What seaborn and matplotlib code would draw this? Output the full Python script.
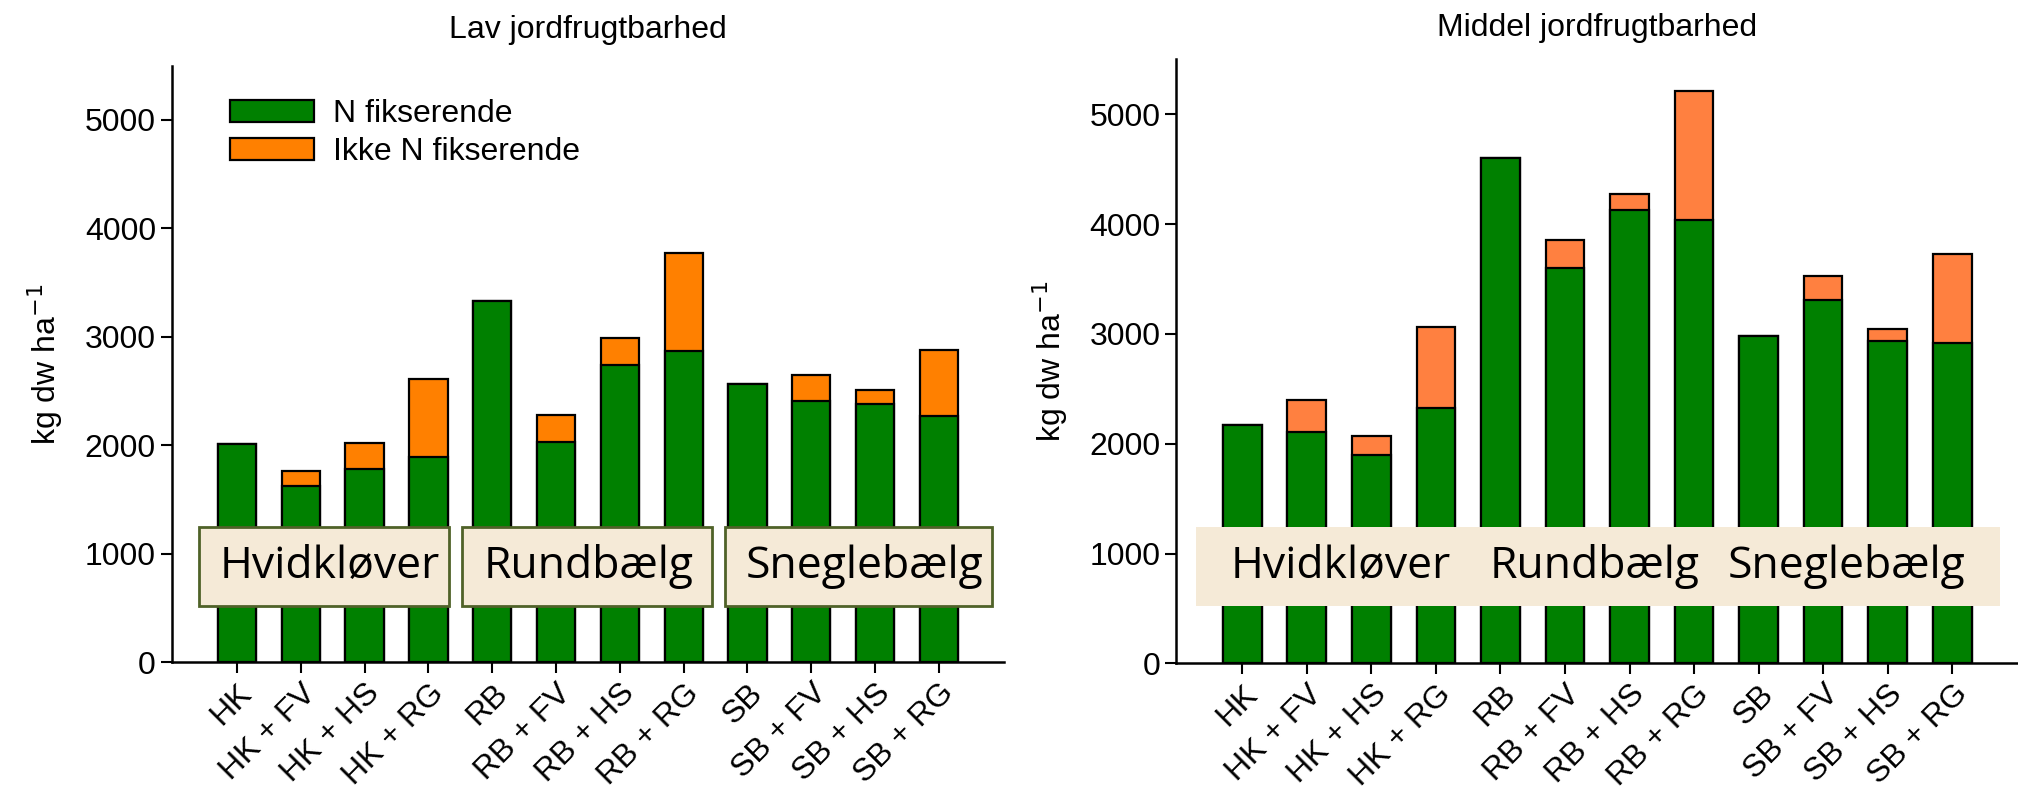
import numpy as np
import pandas as pd
import matplotlib
matplotlib.use("Agg")
import matplotlib.pyplot as plt
import matplotlib.patches as mpatches
import seaborn as sns

# treatments (same order in both panels)
treatments = ["HK", "HK + FV", "HK + HS", "HK + RG",
              "RB", "RB + FV", "RB + HS", "RB + RG",
              "SB", "SB + FV", "SB + HS", "SB + RG"]

# low soil fertility: N-fixing part and total yield (kg dw/ha)
lav_fix = [2015, 1625, 1780, 1890, 3333, 2035, 2743, 2866, 2567, 2410, 2383, 2272]
lav_total = [2015, 1768, 2026, 2616, 3333, 2278, 2992, 3776, 2567, 2650, 2506, 2881]

# medium soil fertility
mid_fix = [2170, 2103, 1900, 2324, 4600, 3600, 4127, 4036, 2980, 3312, 2939, 2921]
mid_total = [2170, 2400, 2069, 3066, 4600, 3851, 4278, 5209, 2980, 3530, 3045, 3727]

groups = ["Hvidkløver", "Rundbælg", "Sneglebælg"]

GREEN = "#008000"
ORANGE_L = "#FF8000"
ORANGE_R = "#FF8040"
BOX_FILL = "#F5EAD7"
BOX_EDGE = "#4F6228"

sns.set_theme(style="ticks")
plt.rcParams["font.family"] = ["Liberation Sans", "DejaVu Sans"]
plt.rcParams.update({"text.color": "black", "axes.labelcolor": "black",
                     "xtick.color": "black", "ytick.color": "black"})
FS = 23

fig = plt.figure(figsize=(20.18, 7.91), dpi=100)
ax1 = fig.add_axes([0.0852, 0.1627, 0.4123, 0.7543])
ax2 = fig.add_axes([0.583, 0.1614, 0.417, 0.7636])


def draw_panel(ax, fix, total, orange, title, pad):
    df = pd.DataFrame({"beh": treatments, "fix": fix, "total": total})
    sns.barplot(data=df, x="beh", y="total", color=orange, width=0.6,
                edgecolor="black", linewidth=1.6, saturation=1, ax=ax)
    sns.barplot(data=df, x="beh", y="fix", color=GREEN, width=0.6,
                edgecolor="black", linewidth=1.6, saturation=1, ax=ax)
    ax.set_xlim(-1.02, 12.02)
    ax.set_ylim(0, 5500)
    ax.set_yticks([0, 1000, 2000, 3000, 4000, 5000])
    ax.set_xlabel("")
    ax.set_ylabel("kg dw ha$^{-1}$", fontsize=FS, labelpad=14)
    ax.set_title(title, fontsize=FS, pad=pad)
    ax.tick_params(axis="both", labelsize=FS, length=8, width=1.5, direction="out")
    ax.set_xticks(range(len(treatments)))
    ax.set_xticklabels(treatments, rotation=45, ha="right",
                       rotation_mode="anchor", va="top")
    for s in ["top", "right"]:
        ax.spines[s].set_visible(False)
    for s in ["left", "bottom"]:
        ax.spines[s].set_linewidth(1.8)
        ax.spines[s].set_color("black")


draw_panel(ax1, lav_fix, lav_total, ORANGE_L, "Lav jordfrugtbarhed", 20)
draw_panel(ax2, mid_fix, mid_total, ORANGE_R, "Middel jordfrugtbarhed", 17)

# group label boxes, left panel (separate boxes)
for x0, x1, name in [(-0.6, 3.32, groups[0]), (3.53, 7.45, groups[1]),
                     (7.65, 11.83, groups[2])]:
    ax1.add_patch(mpatches.Rectangle((x0, 516), x1 - x0, 729,
                                     facecolor=BOX_FILL, edgecolor=BOX_EDGE,
                                     linewidth=2, zorder=5))
    ax1.text(x0 + 0.33, 780, name, fontsize=32, family=["Open Sans", "DejaVu Sans"],
             ha="left", va="baseline", zorder=6)

# one shared box, right panel
ax2.add_patch(mpatches.Rectangle((-0.72, 524), 12.46, 716,
                                 facecolor=BOX_FILL, edgecolor="none", zorder=5))
for x, name in zip([-0.18, 3.84, 7.52], groups):
    ax2.text(x, 773, name, fontsize=32, family=["Open Sans", "DejaVu Sans"],
             ha="left", va="baseline", zorder=6)

handles = [mpatches.Patch(facecolor=GREEN, edgecolor="black", linewidth=1.6,
                          label="N fikserende"),
           mpatches.Patch(facecolor=ORANGE_L, edgecolor="black", linewidth=1.6,
                          label="Ikke N fikserende")]
ax1.legend(handles=handles, loc="upper left", bbox_to_anchor=(0.055, 0.965),
           frameon=False, fontsize=FS, handlelength=2.6, handleheight=0.7,
           labelspacing=0.25, handletextpad=0.6, borderaxespad=0)

fig.savefig("out.png", dpi=100)
